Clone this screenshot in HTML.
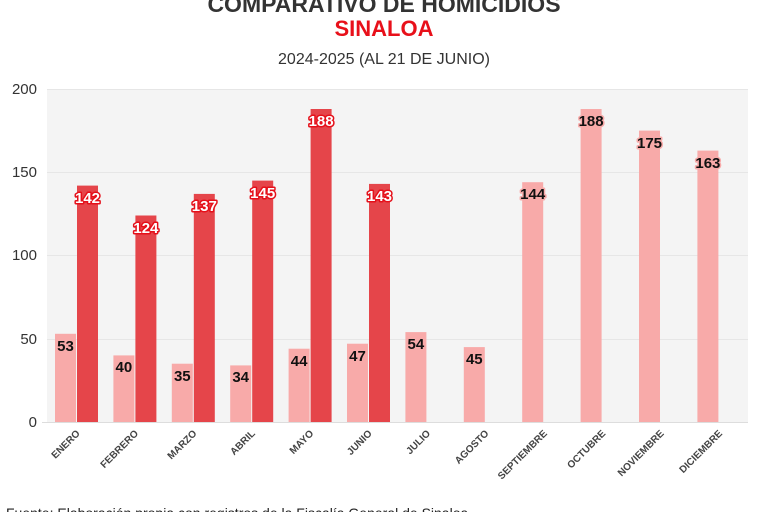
<!DOCTYPE html>
<html><head><meta charset="utf-8"><style>body{margin:0;background:#fff}svg{display:block}
.l{font-size:15px;font-weight:bold;fill:#111;stroke:#f8aaa9;stroke-width:3px;paint-order:stroke;stroke-linejoin:round;text-anchor:middle}
.d{font-size:15px;font-weight:bold;fill:#fff;stroke:#e5101a;stroke-width:3px;paint-order:stroke;stroke-linejoin:round;text-anchor:middle}
.x{font-size:10px;font-weight:bold;fill:#444;text-anchor:end}</style></head><body>
<svg width="768" height="512" xmlns="http://www.w3.org/2000/svg" font-family="Liberation Sans, sans-serif">
<text x="384" y="12" text-anchor="middle" font-size="23" font-weight="bold" fill="#333">COMPARATIVO DE HOMICIDIOS</text>
<text x="384" y="36" text-anchor="middle" font-size="22" font-weight="bold" fill="#e8101a">SINALOA</text>
<text x="384" y="64" text-anchor="middle" font-size="16" fill="#333">2024-2025 (AL 21 DE JUNIO)</text>
<rect x="47" y="89" width="701" height="333" fill="#f4f4f4"/>
<g stroke="#e6e6e6" stroke-width="1">
<line x1="47" x2="748" y1="89.5" y2="89.5"/><line x1="47" x2="748" y1="172.5" y2="172.5"/><line x1="47" x2="748" y1="255.5" y2="255.5"/><line x1="47" x2="748" y1="339.5" y2="339.5"/>
</g>
<line x1="42" x2="748" y1="422.5" y2="422.5" stroke="#ddd"/>
<g font-size="15" fill="#333" text-anchor="end">
<text x="37" y="94">200</text><text x="37" y="177">150</text><text x="37" y="260">100</text><text x="37" y="344">50</text><text x="37" y="427">0</text>
</g>
<g fill="#f8aaa9">
<rect x="55" y="333.8" width="21" height="88.2"/>
<rect x="113.4" y="355.4" width="21" height="66.6"/>
<rect x="171.8" y="363.7" width="21" height="58.3"/>
<rect x="230.2" y="365.4" width="21" height="56.6"/>
<rect x="288.6" y="348.7" width="21" height="73.3"/>
<rect x="347" y="343.7" width="21" height="78.3"/>
<rect x="405.4" y="332.1" width="21" height="89.9"/>
<rect x="463.8" y="347.1" width="21" height="74.9"/>
<rect x="522.2" y="182.2" width="21" height="239.8"/>
<rect x="580.6" y="109" width="21" height="313"/>
<rect x="639" y="130.6" width="21" height="291.4"/>
<rect x="697.4" y="150.6" width="21" height="271.4"/>
</g>
<g fill="#e5454a">
<rect x="77" y="185.6" width="21" height="236.4"/>
<rect x="135.4" y="215.5" width="21" height="206.5"/>
<rect x="193.8" y="193.9" width="21" height="228.1"/>
<rect x="252.2" y="180.6" width="21" height="241.4"/>
<rect x="310.6" y="109" width="21" height="313"/>
<rect x="369" y="183.9" width="21" height="238.1"/>
</g>
<text class="l" x="65.5" y="351">53</text>
<text class="l" x="123.9" y="372">40</text>
<text class="l" x="182.3" y="381">35</text>
<text class="l" x="240.7" y="382">34</text>
<text class="l" x="299.1" y="366">44</text>
<text class="l" x="357.5" y="361">47</text>
<text class="l" x="415.9" y="349">54</text>
<text class="l" x="474.3" y="364">45</text>
<text class="l" x="532.7" y="199">144</text>
<text class="l" x="591.1" y="126">188</text>
<text class="l" x="649.5" y="148">175</text>
<text class="l" x="707.9" y="168">163</text>
<text class="d" x="87.5" y="203">142</text>
<text class="d" x="145.9" y="233">124</text>
<text class="d" x="204.3" y="211">137</text>
<text class="d" x="262.7" y="198">145</text>
<text class="d" x="321.1" y="126">188</text>
<text class="d" x="379.5" y="201">143</text>
<text class="x" transform="translate(80.5,434) rotate(-45)">ENERO</text>
<text class="x" transform="translate(138.9,434) rotate(-45)">FEBRERO</text>
<text class="x" transform="translate(197.3,434) rotate(-45)">MARZO</text>
<text class="x" transform="translate(255.7,434) rotate(-45)">ABRIL</text>
<text class="x" transform="translate(314.1,434) rotate(-45)">MAYO</text>
<text class="x" transform="translate(372.5,434) rotate(-45)">JUNIO</text>
<text class="x" transform="translate(430.9,434) rotate(-45)">JULIO</text>
<text class="x" transform="translate(489.3,434) rotate(-45)">AGOSTO</text>
<text class="x" transform="translate(547.7,434) rotate(-45)">SEPTIEMBRE</text>
<text class="x" transform="translate(606.1,434) rotate(-45)">OCTUBRE</text>
<text class="x" transform="translate(664.5,434) rotate(-45)">NOVIEMBRE</text>
<text class="x" transform="translate(722.9,434) rotate(-45)">DICIEMBRE</text>
<text x="6" y="518" font-size="14" fill="#222">Fuente: Elaboración propia con registros de la Fiscalía General de Sinaloa</text>
</svg>
</body></html>
